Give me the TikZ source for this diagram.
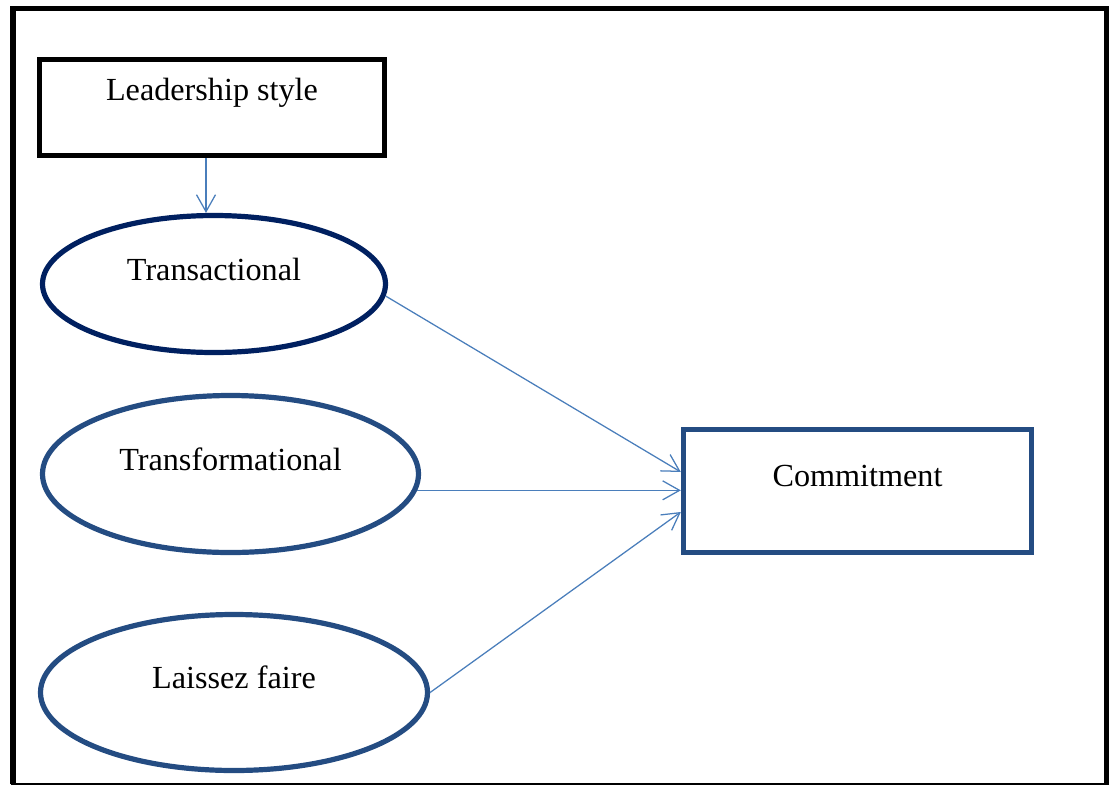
\documentclass[tikz,border=0pt]{standalone}
\usepackage{fontspec}
\setmainfont{Liberation Serif}
\usetikzlibrary{shapes.geometric,arrows.meta}
\definecolor{navy}{RGB}{0,32,96}
\definecolor{steel}{RGB}{36,76,130}
\definecolor{linkblue}{RGB}{74,126,187}
\begin{document}
\begin{tikzpicture}[x=0.25mm,y=-0.25mm,
		every node/.style={font=\fontsize{22.9}{28}\selectfont},
		txt/.style={yshift=10.5pt,inner sep=0pt},
		oval/.style={ellipse,draw,line width=3.7pt,inner sep=0pt},
		box/.style={rectangle,draw,line width=3.8pt,inner sep=0pt},
		conn/.style={linkblue,line width=0.9pt,-{Straight Barb[length=12pt,width=13.5pt]}}]
		\useasboundingbox (0,0) rectangle (1111,785);
		
		% outer frame
		\draw[line width=3.6pt] (13,784) -- (13,8.5) -- (1106.5,8.5) -- (1106.5,784);
		\draw[line width=1pt] (11,784) -- (1109,784);
		
		\node[box,black,minimum width=86.25mm,minimum height=24mm,
		label={[txt,black]center:Leadership style}] (lead) at (212,107.5) {};
		\node[oval,navy,minimum width=85.75mm,minimum height=34.25mm,
		label={[txt,black]center:Transactional}] (trans) at (214,284) {};
		\node[oval,steel,minimum width=94mm,minimum height=39.25mm,
		label={[txt,black]center:Transformational}] (transf) at (230.5,474) {};
		\node[oval,steel,minimum width=96.75mm,minimum height=39mm,
		label={[txt,black]center:Laissez faire}] (lf) at (234,692.5) {};
		\node[box,steel,minimum width=87mm,minimum height=30.75mm,
		label={[txt,black]center:Commitment}] (commit) at (857.5,491) {};
		
		% connectors
		\draw[conn] ([xshift=-1.5mm]lead.south) -- ([xshift=-1.5mm]lead.south |- trans.north);
		\draw[conn] (trans.-4) -- ([yshift=4.75mm]commit.west);
		\draw[conn] (transf.-5) -- (transf.-5 -| commit.west);
		\draw[conn] (lf.east) -- ([yshift=-5.25mm]commit.west);
		\end{tikzpicture}
\end{document}
